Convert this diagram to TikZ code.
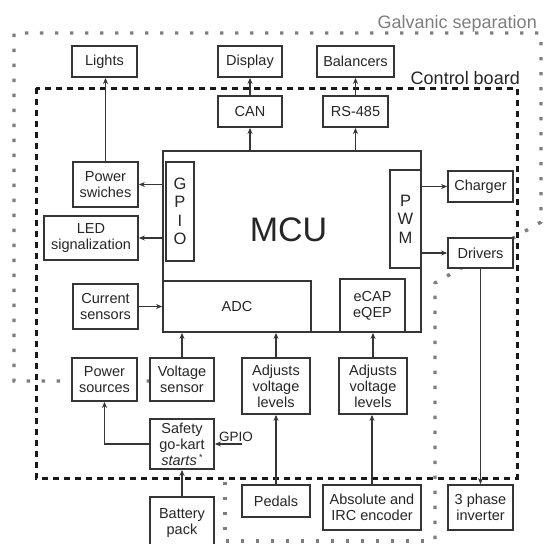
\documentclass[tikz,border=0pt]{standalone}
\usepackage{fontspec}
\setmainfont{Liberation Sans}
\usetikzlibrary{arrows.meta}
\definecolor{boxc}{HTML}{353535}
\definecolor{txtc}{HTML}{262626}
\definecolor{galvc}{HTML}{7E7E7E}
\newcommand\mybox[7][]{\node[box,#1,minimum width={#5-#3},minimum height={#6-#4}] (#2) at ({(#3+#5)/2},{(#4+#6)/2}) {#7};}
\tikzset{
  box/.style={draw=boxc, line width=1.8pt, fill=white, inner sep=0pt, align=center,
    font=\fontsize{14.5}{16}\selectfont, text=txtc},
  conn/.style={draw=boxc, line width=1.5pt},
  arr/.style={conn, -{Stealth[length=6pt,width=5pt]}},
  galv/.style={draw=galvc, line width=3.4pt, dash pattern=on 3.4pt off 11.6pt},
  ctrl/.style={draw=black!90, line width=3pt, dash pattern=on 6pt off 5pt},
  vert/.style={font=\fontsize{16.5}{18.5}\selectfont},
}
\begin{document}
\begin{tikzpicture}[x=1pt,y=-1pt]
\useasboundingbox[fill=white] (0,0) rectangle (544,544);
% galvanic separation
\draw[galv] (150,381) -- (14,381) -- (14,33) -- (541,33) -- (541,222) -- (435,283) -- (435,544);
\draw[galv] (225,482) -- (225,541) -- (435,541);
% control board
\draw[ctrl] (36,88) rectangle (517,478);
\node[font=\fontsize{18}{18}\selectfont, text=galvc, anchor=base east, inner sep=0pt] (galvlbl) at (537,28) {Galvanic separation};
\node[font=\fontsize{18}{18}\selectfont, text=txtc, anchor=base east, inner sep=0pt] (ctrllbl) at (520,84) {Control board};
% boxes
\mybox{lights}{72}{46}{137}{77}{Lights}
\mybox{display}{218}{46}{282}{77}{Display}
\mybox{balancers}{317}{46}{394}{77}{Balancers}
\mybox{can}{218}{96}{282}{127}{CAN}
\mybox{rs485}{323}{96}{388}{127}{RS-485}
\mybox{mcu}{163}{151}{421}{332}{}
\node[font=\fontsize{34}{34}\selectfont, text=txtc, inner sep=0pt] (mculbl) at (288.5,230) {MCU};
\mybox[vert]{gpio}{166}{162}{194}{261}{G\\P\\I\\O}
\mybox[vert]{pwm}{390}{170}{421}{268}{P\\W\\M}
\mybox{adc}{163}{281}{311}{332}{ADC}
\mybox{ecap}{340}{279}{405}{332}{eCAP\\eQEP}
\mybox{charger}{448}{171}{513}{202}{Charger}
\mybox{drivers}{448}{238}{513}{268}{Drivers}
\mybox{powsw}{73}{162}{138}{207}{Power\\swiches}
\mybox{led}{44}{216}{138}{260}{LED\\signalization}
\mybox{cursens}{73}{284}{138}{329}{Current\\sensors}
\mybox{powsrc}{72}{358}{137}{401}{Power\\sources}
\mybox{voltsens}{150}{358}{214}{401}{Voltage\\sensor}
\mybox{safety}{150}{419}{214}{469}{Safety\\go-kart\\\textit{starts}\,\raisebox{0.6ex}{\fontsize{9}{9}\selectfont*}}
\mybox{battery}{150}{497}{214}{550}{Battery\\pack}
\mybox{adj1}{242}{358}{310}{414}{Adjusts\\voltage\\levels}
\mybox{adj2}{339}{358}{407}{414}{Adjusts\\voltage\\levels}
\mybox{pedals}{242}{485}{310}{517}{Pedals}
\mybox{encoder}{323}{485}{421}{530}{Absolute and\\IRC encoder}
\mybox{inverter}{448}{485}{513}{530}{3 phase\\inverter}
% connectors
\draw[arr] (powsw.north) -- (powsw.north |- lights.south);
\draw[arr] (can.north) -- (display.south);
\draw[arr] (rs485.north) -- (rs485.north |- balancers.south);
\draw[arr] (can.south |- mcu.north) -- (can.south);
\draw[arr] (rs485.south |- mcu.north) -- (rs485.south);
\draw[arr] (mcu.west |- powsw.east) -- (powsw.east);
\draw[arr] (mcu.west |- led.east) -- (led.east);
\draw[arr] (cursens.east) -- (cursens.east -| adc.west);
\draw[arr] (voltsens.north) -- (voltsens.north |- adc.south);
\draw[arr] (adj1.north) -- (adj1.north |- adc.south);
\draw[arr] (adj2.north) -- (adj2.north |- ecap.south);
\draw[arr] (pedals.north) -- (pedals.north |- adj1.south);
\draw[arr] (encoder.north) -- (encoder.north |- adj2.south);
\draw[arr] (pwm.east |- charger.west) -- (charger.west);
\draw[arr] (pwm.east |- drivers.west) -- (drivers.west);
\draw[arr] (drivers.south) -- (drivers.south |- inverter.north);
\draw[arr] (battery.north) -- (safety.south);
\draw[arr] (safety.west) -| (powsrc.south);
\coordinate (gpioin) at (242,444);
\draw[arr] (gpioin) -- (gpioin -| safety.east);
\node[font=\fontsize{13.5}{13.5}\selectfont, text=txtc, anchor=base west, inner sep=0pt] (gpiolbl) at (219,441) {GPIO};
\end{tikzpicture}
\end{document}
